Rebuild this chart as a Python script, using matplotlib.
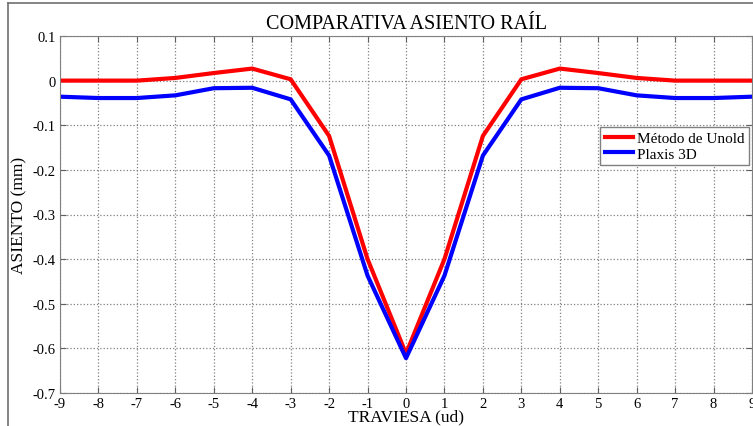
import numpy as np
import matplotlib.pyplot as plt
from matplotlib.lines import Line2D

plt.rcParams['font.family'] = ['Liberation Serif', 'DejaVu Serif']
plt.rcParams['axes.unicode_minus'] = False

traviesa = np.arange(-9, 10)
unold = [0, 0, 0, 0.006, 0.017, 0.027, 0.003, -0.124, -0.40, -0.612,
         -0.40, -0.124, 0.003, 0.027, 0.017, 0.006, 0, 0, 0]
plaxis = [-0.036, -0.039, -0.039, -0.033, -0.017, -0.016, -0.042, -0.168, -0.437, -0.622,
          -0.437, -0.168, -0.042, -0.016, -0.017, -0.033, -0.039, -0.039, -0.036]

fig = plt.figure(figsize=(7.53, 4.27), dpi=100)
ax = fig.add_axes([60/753, 33/427, 692/753, 357/427])

ax.plot(traviesa, unold, color='red', lw=3, label='Método de Unold')
ax.plot(traviesa, plaxis, color='blue', lw=3, label='Plaxis 3D')

ax.set_xlim(-9, 9)
ax.set_ylim(-0.7, 0.1)
ax.set_xticks(np.arange(-9, 10))
ax.set_yticks(np.round(np.arange(-0.7, 0.11, 0.1), 1))
ax.set_yticklabels(['-0.7', '-0.6', '-0.5', '-0.4', '-0.3', '-0.2', '-0.1', '0', '0.1'])
ax.grid(True, color='#808080', ls=':', lw=0.9)
ax.tick_params(direction='in', top=True, right=True, labelsize=10.5, pad=3, length=4, color='#606060')
for s in ax.spines.values():
    s.set_color('#808080')

ax.set_title('COMPARATIVA ASIENTO RAÍL', fontsize=14.5, pad=6)
ax.set_xlabel('TRAVIESA (ud)', fontsize=12.5, labelpad=-1)
ax.set_ylabel('ASIENTO (mm)', fontsize=12.5, labelpad=4)

leg = ax.legend(loc='upper right', bbox_to_anchor=(0.996, 0.745), fontsize=11,
                fancybox=False, framealpha=1, edgecolor='#808080', borderpad=0.3,
                labelspacing=0.1, handlelength=1.8, handletextpad=0.3, borderaxespad=0)
leg.get_frame().set_linewidth(1)

# outer frame
fig.add_artist(Line2D([8/753, 8/753], [0, 1 - 4/427], color='#707070', lw=1.2, transform=fig.transFigure))
fig.add_artist(Line2D([8/753, 1], [1 - 4/427, 1 - 4/427], color='#707070', lw=1.2, transform=fig.transFigure))

fig.savefig('out.png', dpi=100)
